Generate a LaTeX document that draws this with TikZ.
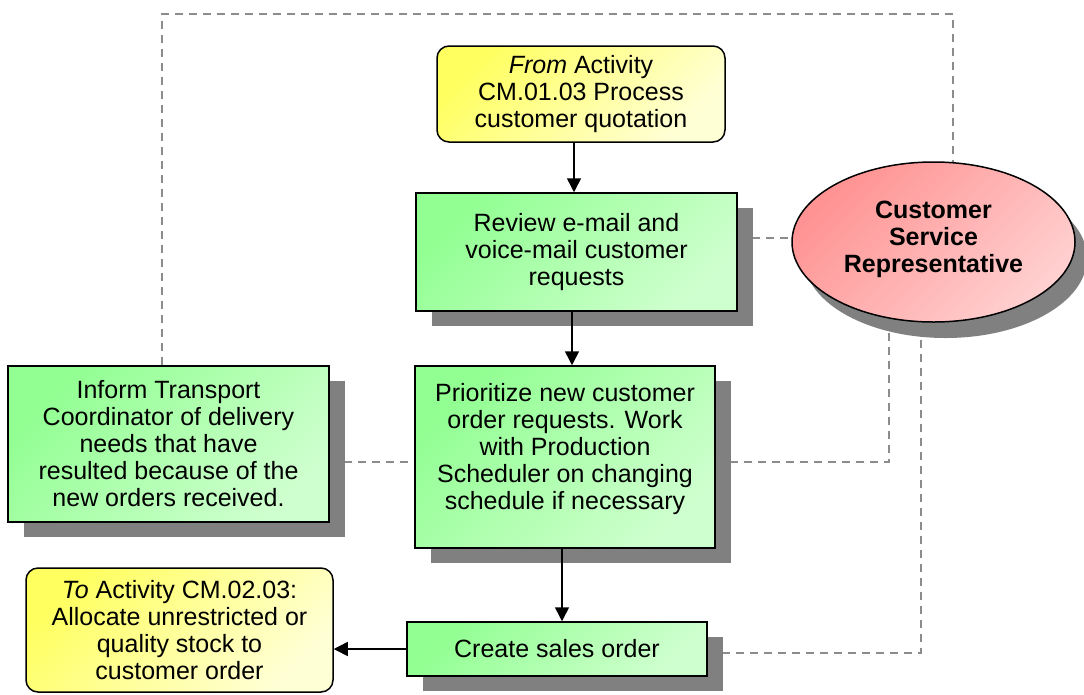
\documentclass[tikz,border=0pt]{standalone}
\usepackage{fontspec}
\setmainfont{Liberation Sans}
\usetikzlibrary{arrows.meta,shadows,shapes.geometric,backgrounds}

\definecolor{greenA}{RGB}{146,255,146}
\definecolor{greenB}{RGB}{206,255,206}
\definecolor{yellowA}{RGB}{255,255,96}
\definecolor{yellowB}{RGB}{255,255,214}
\definecolor{redA}{RGB}{255,146,146}
\definecolor{redB}{RGB}{255,208,208}
\definecolor{shadowgray}{RGB}{128,128,128}
\definecolor{dashgray}{RGB}{140,140,140}

\tikzset{
  txt/.style={align=center, inner sep=0pt, font=\fontsize{25}{27}\selectfont},
  procbox/.style={txt, rectangle, draw=black, line width=1.5pt,
    top color=greenA, bottom color=greenB, shading angle=45,
    drop shadow={shadow xshift=16pt, shadow yshift=-15pt, fill=shadowgray, opacity=1}},
  linkbox/.style={txt, rectangle, rounded corners=12pt, draw=black, line width=1.5pt,
    top color=yellowA, bottom color=yellowB, shading angle=45},
  rolebox/.style={txt, ellipse, draw=black, line width=1.5pt,
    top color=redA, bottom color=redB, shading angle=45,
    drop shadow={shadow xshift=12pt, shadow yshift=-16pt, fill=shadowgray, opacity=1}},
  flow/.style={line width=1.5pt, -{Triangle[length=14pt,width=14pt]}},
  dashline/.style={draw=dashgray, line width=1.3pt, dash pattern=on 8pt off 6pt},
}

\begin{document}
\begin{tikzpicture}[x=1pt,y=-1pt]
\useasboundingbox (0,0) rectangle (1084,694);

% activity boxes
\node[linkbox, minimum width=288pt, minimum height=96pt] (from) at (581,94)
  {\textit{From} Activity\\CM.01.03 Process\\customer quotation};
\node[procbox, minimum width=321pt, minimum height=118pt] (review) at (576.5,252)
  {Review e-mail and\\voice-mail customer\\requests};
\node[procbox, minimum width=300pt, minimum height=182pt] (prio) at (565,457)
  {Prioritize new customer\\order requests. Work\\with Production\\Scheduler on changing\\schedule if necessary\\[-6pt]\mbox{}};
\node[procbox, minimum width=321pt, minimum height=156pt] (inform) at (168.5,444)
  {Inform Transport\\Coordinator of delivery\\needs that have\\resulted because of the\\new orders received.};
\node[linkbox, minimum width=307pt, minimum height=124pt] (to) at (179.5,630)
  {\textit{To} Activity CM.02.03:\\Allocate unrestricted or\\quality stock to\\customer order};
\node[procbox, minimum width=300pt, minimum height=54pt] (create) at (557,649)
  {Create sales order};

% role
\node[rolebox, font=\fontsize{25}{27}\selectfont\bfseries, minimum width=283pt, minimum height=160pt] (csr) at (933.5,242)
  {Customer\\Service\\Representative\\[-16pt]\mbox{}};

% flow arrows
\coordinate (a1) at (574,0);
\coordinate (a2) at (572,0);
\coordinate (a3) at (562,0);
\draw[flow] (a1 |- from.south) -- (a1 |- review.north);
\draw[flow] (a2 |- review.south) -- (a2 |- prio.north);
\draw[flow] (a3 |- prio.south) -- (a3 |- create.north);
\draw[flow] (create.west) -- (create.west -| to.east);

% role links
\coordinate (tl) at (162,14);
\coordinate (tr) at (953,14);
\coordinate (r1) at (0,238);
\coordinate (m1) at (0,462);
\coordinate (c1) at (889,462);
\coordinate (c2) at (921,653);
\begin{scope}[on background layer]
  \draw[dashline] (tl |- inform.north) -- (tl) -- (tr) -- (tr |- csr.center);
  \draw[dashline] (review.east |- r1) -- (csr.center |- r1);
  \draw[dashline] (inform.east |- m1) -- (prio.west |- m1);
  \draw[dashline] (prio.east |- c1) -- (c1) -- (c1 |- csr.center);
  \draw[dashline] (create.east |- c2) -- (c2) -- (c2 |- csr.center);
\end{scope}
\end{tikzpicture}
\end{document}
